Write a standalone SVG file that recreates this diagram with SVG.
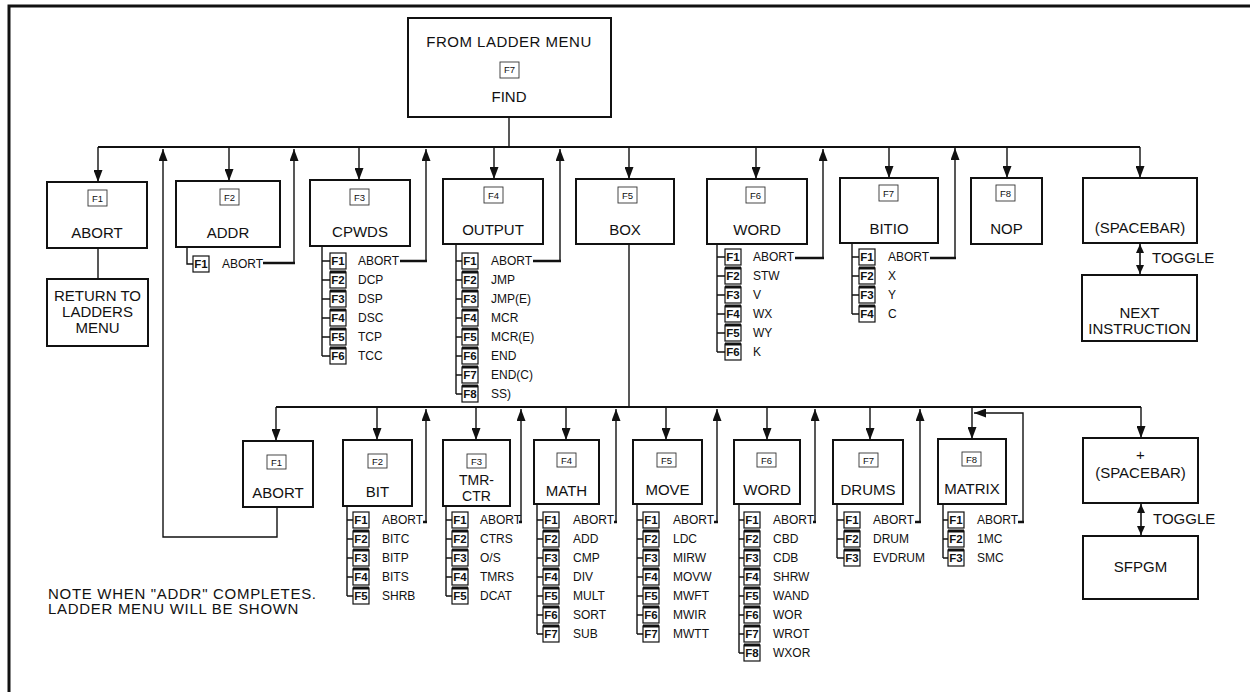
<svg xmlns="http://www.w3.org/2000/svg" width="1250" height="692" viewBox="0 0 1250 692">
<defs>
<style>
text{font-family:"Liberation Sans",Arial,sans-serif;fill:#111}
.bx{fill:#fff;stroke:#111;stroke-width:2}
.t{font-size:15px;text-anchor:middle}
.s{font-size:12px}
.key{fill:#fff;stroke:#333;stroke-width:0.9}
.kt{font-size:9.5px;text-anchor:middle}
.fk{fill:#fff;stroke:#111;stroke-width:1.2}
.ft{font-size:11.5px;font-weight:bold;text-anchor:middle}
.thk{stroke:#111;stroke-width:3;fill:none}
.ln{stroke:#111;stroke-width:1.4;fill:none}
.bus{stroke:#111;stroke-width:2.2;fill:none}
.ret{stroke:#111;stroke-width:2.6;fill:none}
.arr{stroke:#111;stroke-width:1.4;fill:none;marker-end:url(#ah)}
.tog{stroke:#111;stroke-width:1.6;fill:none;marker-start:url(#sm);marker-end:url(#sm)}
</style>
<marker id="ah" markerUnits="userSpaceOnUse" viewBox="0 0 12 9" markerWidth="12" markerHeight="9" refX="12" refY="4.5" orient="auto"><path d="M0,0 L12,4.5 L0,9 z" fill="#111"/></marker>
<marker id="sm" markerUnits="userSpaceOnUse" viewBox="0 0 9 8" markerWidth="9" markerHeight="8" refX="9" refY="4" orient="auto-start-reverse"><path d="M0,0 L9,4 L0,8 z" fill="#111"/></marker>
</defs>
<rect width="1250" height="692" fill="#fff"/>
<g id="frame"><path d="M9,692 V6 H1250" stroke="#111" stroke-width="3" fill="none"/></g>

<g id="connectors">
<path class="bus" d="M98,147 H1140"/>
<path class="ln" d="M509,117 V147"/>
<line class="arr" x1="98" y1="147" x2="98" y2="182"/>
<line class="arr" x1="229" y1="147" x2="229" y2="181"/>
<line class="arr" x1="359" y1="147" x2="359" y2="180"/>
<line class="arr" x1="494" y1="147" x2="494" y2="179"/>
<line class="arr" x1="629" y1="147" x2="629" y2="179"/>
<line class="arr" x1="756" y1="147" x2="756" y2="179"/>
<line class="arr" x1="889" y1="147" x2="889" y2="178"/>
<line class="arr" x1="1007" y1="147" x2="1007" y2="178"/>
<line class="arr" x1="1140" y1="147" x2="1140" y2="178"/>
<polyline class="arr" points="294,263 294,149"/>
<polyline class="arr" points="426,261 426,149"/>
<polyline class="arr" points="560,261 560,149"/>
<polyline class="arr" points="823,258 823,149"/>
<polyline class="arr" points="955,258 955,148"/>
<polyline class="arr" points="277,507 277,537 163,537 163,149"/>
<path class="ret" d="M263,263 H295 M400,261 H427 M533,261 H561 M795,258 H824 M930,258 H956"/>
<path class="ln" d="M98,248 V279"/>
<path class="ln" d="M629,244 V407"/>
<line class="tog" x1="1140" y1="244" x2="1140" y2="274"/>
<path class="bus" d="M276,407 H1141"/>
<line class="arr" x1="276" y1="407" x2="276" y2="441"/>
<line class="arr" x1="377" y1="407" x2="377" y2="440"/>
<line class="arr" x1="476" y1="407" x2="476" y2="440"/>
<line class="arr" x1="566" y1="407" x2="566" y2="440"/>
<line class="arr" x1="666" y1="407" x2="666" y2="440"/>
<line class="arr" x1="767" y1="407" x2="767" y2="440"/>
<line class="arr" x1="870" y1="407" x2="870" y2="440"/>
<line class="arr" x1="972" y1="407" x2="972" y2="439"/>
<line class="arr" x1="1141" y1="407" x2="1141" y2="438"/>
<polyline class="arr" points="426,522 426,409"/>
<polyline class="arr" points="521,522 521,409"/>
<polyline class="arr" points="616,522 616,409"/>
<polyline class="arr" points="717,522 717,409"/>
<polyline class="arr" points="815,522 815,409"/>
<polyline class="arr" points="920,522 920,409"/>
<polyline class="arr" points="1023,522 1023,413 974,413"/>
<path class="ret" d="M423,522 H427 M519,522 H522 M614,522 H617 M714,522 H718 M813,522 H816 M915,522 H921 M1018,522 H1024"/>
<line class="tog" x1="1141" y1="504" x2="1141" y2="535"/>
<path class="ln" d="M187,247 V264 H193"/>
<path class="ln" d="M322,246 V356 M322,261 H330 M322,280 H330 M322,299 H330 M322,318 H330 M322,337 H330 M322,356 H330"/>
<path class="ln" d="M456,244 V394 M456,261 H462 M456,280 H462 M456,299 H462 M456,318 H462 M456,337 H462 M456,356 H462 M456,375 H462 M456,394 H462"/>
<path class="ln" d="M717,244 V352 M717,257 H725 M717,276 H725 M717,295 H725 M717,314 H725 M717,333 H725 M717,352 H725"/>
<path class="ln" d="M852,243 V314 M852,257 H859 M852,276 H859 M852,295 H859 M852,314 H859"/>
<path class="ln" d="M347,506 V596 M347,520 H353 M347,539 H353 M347,558 H353 M347,577 H353 M347,596 H353"/>
<path class="ln" d="M446,506 V596 M446,520 H452 M446,539 H452 M446,558 H452 M446,577 H452 M446,596 H452"/>
<path class="ln" d="M537,504 V634 M537,520 H543 M537,539 H543 M537,558 H543 M537,577 H543 M537,596 H543 M537,615 H543 M537,634 H543"/>
<path class="ln" d="M637,504 V634 M637,520 H643 M637,539 H643 M637,558 H643 M637,577 H643 M637,596 H643 M637,615 H643 M637,634 H643"/>
<path class="ln" d="M739,504 V653 M739,520 H744 M739,539 H744 M739,558 H744 M739,577 H744 M739,596 H744 M739,615 H744 M739,634 H744 M739,653 H744"/>
<path class="ln" d="M837,504 V558 M837,520 H844 M837,539 H844 M837,558 H844"/>
<path class="ln" d="M943,504 V558 M943,520 H948 M943,539 H948 M943,558 H948"/>
</g>

<g id="find">
<rect class="bx" x="408" y="18" width="203" height="99"/>
<text class="t" x="509" y="47" letter-spacing="0.5">FROM LADDER MENU</text>
<rect class="key" x="500" y="62" width="19" height="16"/><text class="kt" x="509.5" y="73">F7</text>
<text class="t" x="509" y="102">FIND</text>
</g>

<g id="abort1">
<rect class="bx" x="47" y="182" width="100" height="66"/>
<rect class="key" x="88" y="190" width="19" height="16"/><text class="kt" x="97.5" y="201.5">F1</text>
<text class="t" x="97" y="238">ABORT</text>
</g>
<g id="return">
<rect class="bx" x="47" y="279" width="101" height="67"/>
<text class="t" x="97.5" y="301">RETURN TO</text>
<text class="t" x="97.5" y="317">LADDERS</text>
<text class="t" x="97.5" y="333">MENU</text>
</g>
<g id="addr">
<rect class="bx" x="176" y="181" width="104" height="66"/>
<rect class="key" x="220" y="189" width="19" height="16"/><text class="kt" x="229.5" y="200.5">F2</text>
<text class="t" x="228" y="238">ADDR</text>
<rect class="fk" x="193" y="256" width="16" height="16"/><text class="ft" x="201" y="268">F1</text>
<text class="s" x="222" y="268">ABORT</text>
</g>
<g id="cpwds">
<rect class="bx" x="310" y="180" width="100" height="66"/>
<rect class="key" x="350" y="189" width="19" height="16"/><text class="kt" x="359.5" y="200.5">F3</text>
<text class="t" x="360" y="237">CPWDS</text>
<rect class="fk" x="330" y="253" width="16" height="16"/><rect class="fk" x="330" y="272" width="16" height="16"/><rect class="fk" x="330" y="291" width="16" height="16"/><rect class="fk" x="330" y="310" width="16" height="16"/><rect class="fk" x="330" y="329" width="16" height="16"/><rect class="fk" x="330" y="348" width="16" height="16"/>
<path class="thk" d="M330,272 h16 M330,291 h16 M330,310 h16 M330,329 h16 M330,348 h16"/>
<text class="ft" x="338" y="265">F1</text><text class="ft" x="338" y="284">F2</text><text class="ft" x="338" y="303">F3</text><text class="ft" x="338" y="322">F4</text><text class="ft" x="338" y="341">F5</text><text class="ft" x="338" y="360">F6</text>
<text class="s" x="358" y="265">ABORT</text><text class="s" x="358" y="284">DCP</text><text class="s" x="358" y="303">DSP</text><text class="s" x="358" y="322">DSC</text><text class="s" x="358" y="341">TCP</text><text class="s" x="358" y="360">TCC</text>
</g>
<g id="output">
<rect class="bx" x="443" y="179" width="100" height="65"/>
<rect class="key" x="484" y="187" width="19" height="16"/><text class="kt" x="493.5" y="198.5">F4</text>
<text class="t" x="493" y="235">OUTPUT</text>
<rect class="fk" x="462" y="253" width="16" height="16"/><rect class="fk" x="462" y="272" width="16" height="16"/><rect class="fk" x="462" y="291" width="16" height="16"/><rect class="fk" x="462" y="310" width="16" height="16"/><rect class="fk" x="462" y="329" width="16" height="16"/><rect class="fk" x="462" y="348" width="16" height="16"/><rect class="fk" x="462" y="367" width="16" height="16"/><rect class="fk" x="462" y="386" width="16" height="16"/>
<path class="thk" d="M462,272 h16 M462,291 h16 M462,310 h16 M462,329 h16 M462,348 h16 M462,367 h16 M462,386 h16"/>
<text class="ft" x="470" y="265">F1</text><text class="ft" x="470" y="284">F2</text><text class="ft" x="470" y="303">F3</text><text class="ft" x="470" y="322">F4</text><text class="ft" x="470" y="341">F5</text><text class="ft" x="470" y="360">F6</text><text class="ft" x="470" y="379">F7</text><text class="ft" x="470" y="398">F8</text>
<text class="s" x="491" y="265">ABORT</text><text class="s" x="491" y="284">JMP</text><text class="s" x="491" y="303">JMP(E)</text><text class="s" x="491" y="322">MCR</text><text class="s" x="491" y="341">MCR(E)</text><text class="s" x="491" y="360">END</text><text class="s" x="491" y="379">END(C)</text><text class="s" x="491" y="398">SS)</text>
</g>
<g id="box">
<rect class="bx" x="576" y="179" width="98" height="65"/>
<rect class="key" x="618" y="187" width="19" height="16"/><text class="kt" x="627.5" y="198.5">F5</text>
<text class="t" x="625" y="235">BOX</text>
</g>
<g id="word1">
<rect class="bx" x="707" y="179" width="100" height="65"/>
<rect class="key" x="746" y="187" width="19" height="16"/><text class="kt" x="755.5" y="198.5">F6</text>
<text class="t" x="757" y="235">WORD</text>
<rect class="fk" x="725" y="249" width="16" height="16"/><rect class="fk" x="725" y="268" width="16" height="16"/><rect class="fk" x="725" y="287" width="16" height="16"/><rect class="fk" x="725" y="306" width="16" height="16"/><rect class="fk" x="725" y="325" width="16" height="16"/><rect class="fk" x="725" y="344" width="16" height="16"/>
<path class="thk" d="M725,268 h16 M725,287 h16 M725,306 h16 M725,325 h16 M725,344 h16"/>
<text class="ft" x="733" y="261">F1</text><text class="ft" x="733" y="280">F2</text><text class="ft" x="733" y="299">F3</text><text class="ft" x="733" y="318">F4</text><text class="ft" x="733" y="337">F5</text><text class="ft" x="733" y="356">F6</text>
<text class="s" x="753" y="261">ABORT</text><text class="s" x="753" y="280">STW</text><text class="s" x="753" y="299">V</text><text class="s" x="753" y="318">WX</text><text class="s" x="753" y="337">WY</text><text class="s" x="753" y="356">K</text>
</g>
<g id="bitio">
<rect class="bx" x="840" y="178" width="98" height="65"/>
<rect class="key" x="879" y="185" width="19" height="16"/><text class="kt" x="888.5" y="196.5">F7</text>
<text class="t" x="889" y="234">BITIO</text>
<rect class="fk" x="859" y="249" width="16" height="16"/><rect class="fk" x="859" y="268" width="16" height="16"/><rect class="fk" x="859" y="287" width="16" height="16"/><rect class="fk" x="859" y="306" width="16" height="16"/>
<path class="thk" d="M859,268 h16 M859,287 h16 M859,306 h16"/>
<text class="ft" x="867" y="261">F1</text><text class="ft" x="867" y="280">F2</text><text class="ft" x="867" y="299">F3</text><text class="ft" x="867" y="318">F4</text>
<text class="s" x="888" y="261">ABORT</text><text class="s" x="888" y="280">X</text><text class="s" x="888" y="299">Y</text><text class="s" x="888" y="318">C</text>
</g>
<g id="nop">
<rect class="bx" x="971" y="178" width="71" height="66"/>
<rect class="key" x="996" y="185" width="19" height="16"/><text class="kt" x="1005.5" y="196.5">F8</text>
<text class="t" x="1006.5" y="234">NOP</text>
</g>
<g id="spacebar1">
<rect class="bx" x="1083" y="178" width="114" height="65"/>
<text class="t" x="1140" y="233">(SPACEBAR)</text>
<text x="1152" y="263" style="font-size:15px">TOGGLE</text>
</g>
<g id="next">
<rect class="bx" x="1082" y="275" width="115" height="66"/>
<text class="t" x="1139.5" y="318">NEXT</text>
<text class="t" x="1139.5" y="334">INSTRUCTION</text>
</g>

<g id="abort2">
<rect class="bx" x="243" y="441" width="70" height="66"/>
<rect class="key" x="267" y="455" width="19" height="14"/><text class="kt" x="276.5" y="465.5">F1</text>
<text class="t" x="278" y="498">ABORT</text>
</g>
<g id="bit">
<rect class="bx" x="343" y="440" width="69" height="66"/>
<rect class="key" x="368" y="454" width="19" height="14"/><text class="kt" x="377.5" y="464.5">F2</text>
<text class="t" x="377.5" y="497">BIT</text>
<rect class="fk" x="353" y="512" width="16" height="16"/><rect class="fk" x="353" y="531" width="16" height="16"/><rect class="fk" x="353" y="550" width="16" height="16"/><rect class="fk" x="353" y="569" width="16" height="16"/><rect class="fk" x="353" y="588" width="16" height="16"/>
<path class="thk" d="M353,531 h16 M353,550 h16 M353,569 h16 M353,588 h16"/>
<text class="ft" x="361" y="524">F1</text><text class="ft" x="361" y="543">F2</text><text class="ft" x="361" y="562">F3</text><text class="ft" x="361" y="581">F4</text><text class="ft" x="361" y="600">F5</text>
<text class="s" x="382" y="524">ABORT</text><text class="s" x="382" y="543">BITC</text><text class="s" x="382" y="562">BITP</text><text class="s" x="382" y="581">BITS</text><text class="s" x="382" y="600">SHRB</text>
</g>
<g id="tmrctr">
<rect class="bx" x="443" y="440" width="67" height="66"/>
<rect class="key" x="467" y="454" width="19" height="14"/><text class="kt" x="476.5" y="464.5">F3</text>
<text class="t" x="476.5" y="485" style="font-size:14px">TMR-</text>
<text class="t" x="476.5" y="501" style="font-size:14px">CTR</text>
<rect class="fk" x="452" y="512" width="16" height="16"/><rect class="fk" x="452" y="531" width="16" height="16"/><rect class="fk" x="452" y="550" width="16" height="16"/><rect class="fk" x="452" y="569" width="16" height="16"/><rect class="fk" x="452" y="588" width="16" height="16"/>
<path class="thk" d="M452,531 h16 M452,550 h16 M452,569 h16 M452,588 h16"/>
<text class="ft" x="460" y="524">F1</text><text class="ft" x="460" y="543">F2</text><text class="ft" x="460" y="562">F3</text><text class="ft" x="460" y="581">F4</text><text class="ft" x="460" y="600">F5</text>
<text class="s" x="480" y="524">ABORT</text><text class="s" x="480" y="543">CTRS</text><text class="s" x="480" y="562">O/S</text><text class="s" x="480" y="581">TMRS</text><text class="s" x="480" y="600">DCAT</text>
</g>
<g id="math">
<rect class="bx" x="534" y="440" width="65" height="64"/>
<rect class="key" x="557" y="453" width="19" height="14"/><text class="kt" x="566.5" y="463.5">F4</text>
<text class="t" x="566.5" y="496">MATH</text>
<rect class="fk" x="543" y="512" width="16" height="16"/><rect class="fk" x="543" y="531" width="16" height="16"/><rect class="fk" x="543" y="550" width="16" height="16"/><rect class="fk" x="543" y="569" width="16" height="16"/><rect class="fk" x="543" y="588" width="16" height="16"/><rect class="fk" x="543" y="607" width="16" height="16"/><rect class="fk" x="543" y="626" width="16" height="16"/>
<path class="thk" d="M543,531 h16 M543,550 h16 M543,569 h16 M543,588 h16 M543,607 h16 M543,626 h16"/>
<text class="ft" x="551" y="524">F1</text><text class="ft" x="551" y="543">F2</text><text class="ft" x="551" y="562">F3</text><text class="ft" x="551" y="581">F4</text><text class="ft" x="551" y="600">F5</text><text class="ft" x="551" y="619">F6</text><text class="ft" x="551" y="638">F7</text>
<text class="s" x="573" y="524">ABORT</text><text class="s" x="573" y="543">ADD</text><text class="s" x="573" y="562">CMP</text><text class="s" x="573" y="581">DIV</text><text class="s" x="573" y="600">MULT</text><text class="s" x="573" y="619">SORT</text><text class="s" x="573" y="638">SUB</text>
</g>
<g id="move">
<rect class="bx" x="633" y="440" width="69" height="64"/>
<rect class="key" x="657" y="453" width="19" height="14"/><text class="kt" x="666.5" y="463.5">F5</text>
<text class="t" x="667.5" y="495">MOVE</text>
<rect class="fk" x="643" y="512" width="16" height="16"/><rect class="fk" x="643" y="531" width="16" height="16"/><rect class="fk" x="643" y="550" width="16" height="16"/><rect class="fk" x="643" y="569" width="16" height="16"/><rect class="fk" x="643" y="588" width="16" height="16"/><rect class="fk" x="643" y="607" width="16" height="16"/><rect class="fk" x="643" y="626" width="16" height="16"/>
<path class="thk" d="M643,531 h16 M643,550 h16 M643,569 h16 M643,588 h16 M643,607 h16 M643,626 h16"/>
<text class="ft" x="651" y="524">F1</text><text class="ft" x="651" y="543">F2</text><text class="ft" x="651" y="562">F3</text><text class="ft" x="651" y="581">F4</text><text class="ft" x="651" y="600">F5</text><text class="ft" x="651" y="619">F6</text><text class="ft" x="651" y="638">F7</text>
<text class="s" x="673" y="524">ABORT</text><text class="s" x="673" y="543">LDC</text><text class="s" x="673" y="562">MIRW</text><text class="s" x="673" y="581">MOVW</text><text class="s" x="673" y="600">MWFT</text><text class="s" x="673" y="619">MWIR</text><text class="s" x="673" y="638">MWTT</text>
</g>
<g id="word2">
<rect class="bx" x="734" y="440" width="66" height="64"/>
<rect class="key" x="757" y="453" width="19" height="14"/><text class="kt" x="766.5" y="463.5">F6</text>
<text class="t" x="767" y="495">WORD</text>
<rect class="fk" x="744" y="512" width="16" height="16"/><rect class="fk" x="744" y="531" width="16" height="16"/><rect class="fk" x="744" y="550" width="16" height="16"/><rect class="fk" x="744" y="569" width="16" height="16"/><rect class="fk" x="744" y="588" width="16" height="16"/><rect class="fk" x="744" y="607" width="16" height="16"/><rect class="fk" x="744" y="626" width="16" height="16"/><rect class="fk" x="744" y="645" width="16" height="16"/>
<path class="thk" d="M744,531 h16 M744,550 h16 M744,569 h16 M744,588 h16 M744,607 h16 M744,626 h16 M744,645 h16"/>
<text class="ft" x="752" y="524">F1</text><text class="ft" x="752" y="543">F2</text><text class="ft" x="752" y="562">F3</text><text class="ft" x="752" y="581">F4</text><text class="ft" x="752" y="600">F5</text><text class="ft" x="752" y="619">F6</text><text class="ft" x="752" y="638">F7</text><text class="ft" x="752" y="657">F8</text>
<text class="s" x="773" y="524">ABORT</text><text class="s" x="773" y="543">CBD</text><text class="s" x="773" y="562">CDB</text><text class="s" x="773" y="581">SHRW</text><text class="s" x="773" y="600">WAND</text><text class="s" x="773" y="619">WOR</text><text class="s" x="773" y="638">WROT</text><text class="s" x="773" y="657">WXOR</text>
</g>
<g id="drums">
<rect class="bx" x="833" y="440" width="70" height="64"/>
<rect class="key" x="859" y="453" width="19" height="14"/><text class="kt" x="868.5" y="463.5">F7</text>
<text class="t" x="868" y="495">DRUMS</text>
<rect class="fk" x="844" y="512" width="16" height="16"/><rect class="fk" x="844" y="531" width="16" height="16"/><rect class="fk" x="844" y="550" width="16" height="16"/>
<path class="thk" d="M844,531 h16 M844,550 h16"/>
<text class="ft" x="852" y="524">F1</text><text class="ft" x="852" y="543">F2</text><text class="ft" x="852" y="562">F3</text>
<text class="s" x="873" y="524">ABORT</text><text class="s" x="873" y="543">DRUM</text><text class="s" x="873" y="562">EVDRUM</text>
</g>
<g id="matrix">
<rect class="bx" x="938" y="439" width="68" height="65"/>
<rect class="key" x="962" y="452" width="19" height="14"/><text class="kt" x="971.5" y="462.5">F8</text>
<text class="t" x="972" y="494">MATRIX</text>
<rect class="fk" x="948" y="512" width="16" height="16"/><rect class="fk" x="948" y="531" width="16" height="16"/><rect class="fk" x="948" y="550" width="16" height="16"/>
<path class="thk" d="M948,531 h16 M948,550 h16"/>
<text class="ft" x="956" y="524">F1</text><text class="ft" x="956" y="543">F2</text><text class="ft" x="956" y="562">F3</text>
<text class="s" x="977" y="524">ABORT</text><text class="s" x="977" y="543">1MC</text><text class="s" x="977" y="562">SMC</text>
</g>
<g id="spacebar2">
<rect class="bx" x="1083" y="438" width="115" height="65"/>
<text class="t" x="1140.5" y="460">+</text>
<text class="t" x="1140.5" y="478">(SPACEBAR)</text>
<text x="1153" y="524" style="font-size:15px">TOGGLE</text>
</g>
<g id="sfpgm">
<rect class="bx" x="1083" y="536" width="115" height="63"/>
<text class="t" x="1140.5" y="572">SFPGM</text>
</g>
<g id="note">
<text x="48" y="599" style="font-size:15px" letter-spacing="0.7">NOTE  WHEN "ADDR" COMPLETES.</text>
<text x="48" y="614" style="font-size:15px" letter-spacing="0.7">LADDER MENU WILL BE SHOWN</text>
</g>
</svg>
